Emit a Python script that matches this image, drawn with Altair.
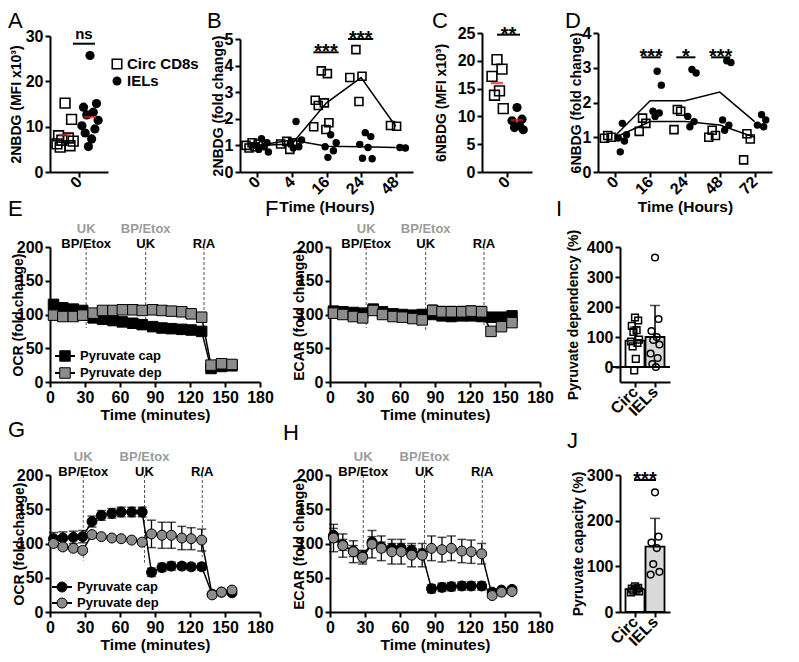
import altair as alt
import pandas as pd

FONT = "Liberation Sans"
GREY = "#8c8c8c"
ANN_GREY = "#9b9b9b"
RED = "#e41a1c"
BAR_GREY = "#d9d9d9"
ONE = pd.DataFrame({"v": [0]})

W_TOT, H_TOT = 783, 638

# ---------------- data ----------------
# A : 2NBDG MFI
A_ticks = ["0"]
A_groups = ["Circ CD8s", "IELs"]
A_circ = [15.2, 11.6, 8.0, 7.5, 7.0, 6.8, 6.2, 5.8, 5.5]
A_iel = [25.7, 15.1, 14.3, 13.2, 12.6, 11.4, 10.2, 9.5, 8.6, 7.3, 5.6]
A_mean = [8.2, 12.1]
A_sig = ["ns"]
A_sig_y = [28.3]

# B : 2NBDG fold change over time
B_cats = ["0", "4", "16", "24", "48"]
B_circ = [[1.1, 1.05, 1.0, 0.95, 0.9],
          [1.15, 1.1, 1.05, 0.85],
          [3.8, 3.7, 2.7, 2.6, 2.5, 1.85, 1.7, 1.6],
          [4.6, 3.6, 3.55, 2.65],
          [1.75, 1.72]]
B_iel = [[1.25, 1.1, 1.0, 0.95, 0.85, 0.75],
         [1.9, 1.2, 1.1, 0.95, 0.9],
         [1.4, 1.1, 0.95, 0.8, 0.55],
         [1.48, 1.33, 1.04, 0.92, 0.52, 0.5],
         [0.92, 0.9]]
B_circ_mean = [1.0, 1.05, 2.6, 3.55, 1.72]
B_iel_mean = [1.0, 1.2, 0.97, 0.95, 0.92]
B_sig = ["***", "***"]
B_sig_cat = [2, 3]
B_sig_y = [4.5, 5.0]

# C : 6NBDG MFI
C_ticks = ["0"]
C_circ = [20.2, 18.5, 17.2, 14.6, 13.8, 11.4]
C_iel = [11.6, 9.5, 9.2, 8.3, 8.0, 7.6]
C_mean = [16.0, 9.3]
C_sig = ["**"]
C_sig_y = [24.7]

# D : 6NBDG fold change over time
D_cats = ["0", "16", "24", "48", "72"]
D_circ = [[1.05, 1.0, 0.97],
          [1.55, 1.4, 1.17],
          [1.8, 1.75, 1.22],
          [1.2, 1.05, 1.0],
          [1.1, 0.95, 0.35]]
D_iel = [[1.4, 1.07, 0.98, 0.89, 0.58],
         [2.9, 2.5, 1.75, 1.7, 1.6],
         [2.95, 2.85, 1.6, 1.45, 1.3],
         [3.2, 3.15, 1.5, 1.35, 1.2],
         [1.65, 1.5, 1.35, 1.3]]
D_circ_mean = [1.0, 1.45, 1.45, 1.35, 1.0]
D_iel_mean = [1.05, 2.05, 2.05, 2.3, 1.45]
D_sig = ["***", "*", "***"]
D_sig_cat = [1, 2, 3]
D_sig_y = [3.3, 3.3, 3.3]

# Seahorse traces
SERIES = ["Pyruvate cap", "Pyruvate dep"]
ANN_TOP = ["UK", "BP/Etox", ""]
ANN_BOT = ["BP/Etox", "UK", "R/A"]

EF_t = [3, 11, 20, 28, 37, 45, 54, 62, 71, 79, 88, 96, 104, 113, 121, 130, 138, 147, 156]
EF_inj = [31, 82, 132]
E_cap = [115, 110, 108, 106, 95, 93, 91, 89, 87, 85, 82, 80, 79, 78, 77, 75, 20, 23, 24]
E_cap_err = [4, 3, 3, 3, 3, 3, 3, 3, 3, 3, 3, 3, 3, 3, 3, 3, 2, 2, 2]
E_dep = [99, 97, 97, 99, 102, 106, 106, 107, 107, 106, 107, 106, 105, 104, 101, 96, 25, 27, 26]
E_dep_err = [3, 3, 3, 3, 3, 3, 3, 3, 3, 3, 3, 3, 3, 3, 3, 3, 2, 2, 2]
E_vend = [80, 92, 92]

F_cap = [105, 104, 103, 102, 108, 104, 101, 100, 99, 100, 100, 98, 97, 98, 98, 97, 96, 96, 98]
F_cap_err = [5, 5, 5, 5, 5, 5, 5, 5, 5, 5, 6, 6, 6, 6, 6, 6, 5, 5, 5]
F_dep = [102, 100, 97, 95, 106, 100, 97, 96, 94, 92, 106, 104, 104, 104, 105, 104, 75, 82, 88]
F_dep_err = [3, 3, 3, 3, 3, 3, 3, 3, 3, 3, 8, 8, 8, 8, 8, 8, 3, 3, 3]
F_vend = [80, 75, 82]

GH_t = [3, 11, 20, 28, 36, 44, 53, 61, 70, 79, 87, 96, 104, 113, 121, 130, 139, 147, 156]
GH_inj = [28.5, 81, 130.5]
G_cap = [107, 108, 109, 110, 132, 141, 144, 146, 146, 146, 58, 65, 67, 67, 66, 66, 26, 29, 28]
G_cap_err = [9, 9, 9, 9, 8, 7, 7, 7, 7, 7, 6, 6, 6, 5, 5, 5, 3, 3, 3]
G_dep = [100, 95, 93, 90, 113, 110, 108, 107, 105, 102, 114, 112, 112, 108, 107, 105, 25, 29, 32]
G_dep_err = [4, 4, 4, 4, 3, 3, 3, 3, 3, 3, 20, 19, 19, 17, 16, 16, 3, 3, 3]
G_vend = [75, 72, 80]

H_cap = [112, 98, 89, 81, 102, 95, 93, 93, 90, 85, 34, 36, 37, 38, 38, 38, 29, 32, 33]
H_cap_err = [10, 8, 8, 8, 8, 7, 7, 7, 7, 7, 6, 6, 6, 6, 6, 6, 3, 3, 3]
H_dep = [108, 97, 88, 80, 99, 93, 88, 88, 83, 83, 93, 91, 93, 89, 88, 85, 24, 29, 30]
H_dep_err = [20, 17, 16, 10, 20, 18, 18, 18, 17, 17, 18, 18, 18, 17, 17, 15, 3, 3, 3]
H_vend = [78, 73, 93]

# I / J bars
IJ_cats = ["Circ", "IELs"]
I_mean = [88, 100]
I_err = [45, 105]
I_circ = [165, 155, 137, 123, 117, 91, 85, 80, 69, 27, -11]
I_iel = [365, 160, 120, 100, 90, 75, 45, 30, 10, 0]

J_mean = [50, 143]
J_err = [8, 62]
J_circ = [56, 53, 51, 49, 47, 45, 43]
J_iel = [262, 165, 152, 140, 105, 88, 82]
J_sig = ["***"]
J_sig_y = [289]

# ---------------- panel rectangles (left, right, top, bottom) in px ----------------
R_A = (42, 100, 28, 164)
R_B = (232, 405, 31, 164)
R_C = (474, 524, 25, 164)
R_D = (590, 764, 25, 164)
R_E = (42, 252, 239, 374)
R_F = (322, 532, 239, 374)
R_I = (612, 662, 239, 374)
R_G = (42, 252, 467, 604)
R_H = (322, 532, 467, 604)
R_J = (612, 662, 467, 604)
LET_TOP = 3


# ---------------- helpers ----------------
def jit(n, s):
    pat = [0.0, 0.8, -0.8, 0.4, -0.4, 1.0, -1.0, 0.6, -0.6, 0.2, -0.2, 0.9, -0.9]
    return [pat[k % len(pat)] * s for k in range(n)]


def pts(groups, shift, spread):
    xs, ys = [], []
    for i, vals in enumerate(groups):
        for v, o in zip(vals, jit(len(vals), spread)):
            xs.append(i + shift + o)
            ys.append(v)
    return pd.DataFrame({"x": xs, "y": ys})


def lab_expr(labels):
    return "[" + ",".join("'" + l + "'" for l in labels) + "][floor(datum.value + 0.001)]"


def mk_x(rect, domain, values, labels=None, title=None, angle=0):
    left, right, top, bottom = rect
    kw = {"values": values, "title": title, "orient": "bottom", "offset": bottom - H_TOT}
    if labels is not None:
        kw["labelExpr"] = lab_expr(labels)
    if angle:
        kw.update(labelAngle=angle, labelAlign="right", labelBaseline="middle")

    def f(field):
        return alt.X(f"{field}:Q",
                     scale=alt.Scale(domain=domain, range=[left, right], nice=False, zero=False),
                     axis=alt.Axis(**kw))
    return f


def mk_y(rect, domain, values, title, tx):
    left, right, top, bottom = rect
    kw = {"values": values, "title": title, "titleX": tx, "titleBaseline": "alphabetic",
          "orient": "left", "offset": -left}

    def f(field):
        return alt.Y(f"{field}:Q",
                     scale=alt.Scale(domain=domain, range=[bottom, top], nice=False, zero=False),
                     axis=alt.Axis(**kw))
    return f


def letter(ch, x, y):
    return alt.Chart(ONE).mark_text(text=ch, font=FONT, fontSize=22, align="left",
                                    baseline="top", color="black").encode(
        x=alt.value(x), y=alt.value(y))


def sq_layer(df, X, Y, size, sw=1.6):
    return alt.Chart(df).mark_point(shape="square", filled=False, color="black",
                                    strokeWidth=sw, size=size, opacity=1).encode(x=X("x"), y=Y("y"))


def dot_layer(df, X, Y, size):
    return alt.Chart(df).mark_circle(color="black", size=size, opacity=1).encode(x=X("x"), y=Y("y"))


def sig(X, Y, x1, x2, ys, labels, fs=20, dy=6):
    d = pd.DataFrame({"x": x1, "x2": x2, "y": ys, "lab": labels,
                      "xm": [(a + b) / 2 for a, b in zip(x1, x2)]})
    r = alt.Chart(d).mark_rule(color="black", strokeWidth=2).encode(x=X("x"), x2="x2", y=Y("y"))
    t = alt.Chart(d).mark_text(font=FONT, fontSize=fs, fontWeight="bold", baseline="alphabetic",
                               dy=dy, color="black").encode(x=X("xm"), y=Y("y"), text="lab:N")
    return [r, t]


def mean_line(means, X, Y):
    d = pd.DataFrame({"x": list(range(len(means))), "y": means})
    return alt.Chart(d).mark_line(color="black", strokeWidth=1.5).encode(x=X("x"), y=Y("y"))


# ---------------- panel A ----------------
XA = mk_x(R_A, [-1, 1], [0], A_ticks, None, -45)
YA = mk_y(R_A, [0, 30], [0, 10, 20, 30], "2NBDG (MFI x10³)", -30)
A_sh = (-0.48, 0.38)
A_layers = [sq_layer(pts([A_circ], A_sh[0], 0.28), XA, YA, 95),
            dot_layer(pts([A_iel], A_sh[1], 0.28), XA, YA, 85),
            alt.Chart(pd.DataFrame({"x": list(A_sh), "y": A_mean})).mark_tick(
                color=RED, thickness=2.5, size=12, orient="horizontal").encode(x=XA("x"), y=YA("y"))]
A_layers += sig(XA, YA, [-0.21], [0.55], A_sig_y, A_sig, fs=15, dy=-5)
for (lab, kind), py in zip(zip(A_groups, ["sq", "dot"]), [56, 73]):
    d = pd.DataFrame({"t": [lab]})
    if kind == "sq":
        mk = alt.Chart(d).mark_point(shape="square", filled=False, color="black", strokeWidth=1.6,
                                     size=90, opacity=1)
    else:
        mk = alt.Chart(d).mark_circle(color="black", size=80, opacity=1)
    A_layers.append(mk.encode(x=alt.value(109), y=alt.value(py)))
    A_layers.append(alt.Chart(d).mark_text(font=FONT, fontSize=15, fontWeight="bold", align="left",
                                           baseline="middle", color="black").encode(
        x=alt.value(119), y=alt.value(py), text="t:N"))
A_layers.append(letter("A", 0, LET_TOP))
panelA = alt.layer(*A_layers)

# ---------------- panel B ----------------
XB = mk_x(R_B, [-0.5, 4.5], list(range(5)), B_cats, "Time (Hours)", -45)
YB = mk_y(R_B, [0, 5], [0, 1, 2, 3, 4, 5], "2NBDG (fold change)", -18)
B_layers = [mean_line(B_circ_mean, XB, YB), mean_line(B_iel_mean, XB, YB),
            sq_layer(pts(B_circ, -0.15, 0.22), XB, YB, 64),
            dot_layer(pts(B_iel, 0.12, 0.2), XB, YB, 55)]
B_layers += sig(XB, YB, [c - 0.38 for c in B_sig_cat], [c + 0.35 for c in B_sig_cat], B_sig_y, B_sig)
B_layers.append(letter("B", 199, LET_TOP))
panelB = alt.layer(*B_layers)

# ---------------- panel C ----------------
XC = mk_x(R_C, [-1, 1], [0], C_ticks, None, -45)
YC = mk_y(R_C, [0, 25], [0, 5, 10, 15, 20, 25], "6NBDG (MFI x10³)", -37)
C_sh = (-0.4, 0.4)
C_layers = [sq_layer(pts([C_circ], C_sh[0], 0.25), XC, YC, 95),
            dot_layer(pts([C_iel], C_sh[1], 0.25), XC, YC, 85),
            alt.Chart(pd.DataFrame({"x": list(C_sh), "y": C_mean})).mark_tick(
                color=RED, thickness=2.5, size=12, orient="horizontal").encode(x=XC("x"), y=YC("y"))]
C_layers += sig(XC, YC, [-0.4], [0.52], C_sig_y, C_sig)
C_layers.append(letter("C", 424, LET_TOP))
panelC = alt.layer(*C_layers)

# ---------------- panel D ----------------
XD = mk_x(R_D, [-0.5, 4.5], list(range(5)), D_cats, "Time (Hours)", -45)
YD = mk_y(R_D, [0, 4], [0, 1, 2, 3, 4], "6NBDG (fold change)", -18)
D_layers = [mean_line(D_circ_mean, XD, YD), mean_line(D_iel_mean, XD, YD),
            sq_layer(pts(D_circ, -0.22, 0.12), XD, YD, 64),
            dot_layer(pts(D_iel, 0.2, 0.15), XD, YD, 55)]
D_layers += sig(XD, YD, [c - 0.25 for c in D_sig_cat], [c + 0.3 for c in D_sig_cat], D_sig_y, D_sig)
D_layers.append(letter("D", 557, LET_TOP))
panelD = alt.layer(*D_layers)


# ---------------- seahorse panels ----------------
def seahorse(rect, t, cap, cap_err, dep, dep_err, inj, vend, ylab, tx, shape, size,
             let, lx, ly, legend=None):
    X = mk_x(rect, [0, 180], list(range(0, 181, 30)), None, "Time (minutes)")
    Y = mk_y(rect, [0, 200], [0, 50, 100, 150, 200], ylab, tx)
    top = rect[2]
    df = pd.DataFrame({"t": t, "cap": cap, "dep": dep,
                       "cap_lo": [a - b for a, b in zip(cap, cap_err)],
                       "cap_hi": [a + b for a, b in zip(cap, cap_err)],
                       "dep_lo": [a - b for a, b in zip(dep, dep_err)],
                       "dep_hi": [a + b for a, b in zip(dep, dep_err)]})
    base = alt.Chart(df)
    dv = pd.DataFrame({"t": inj, "y": [200] * len(inj), "y2": vend, "top": ANN_TOP, "bot": ANN_BOT})
    layers = [alt.Chart(dv).mark_rule(strokeDash=[3, 2], color="#555555", strokeWidth=1).encode(
        x=X("t"), y=Y("y"), y2="y2")]
    for s in ("cap", "dep"):
        layers.append(base.mark_rule(color="black", strokeWidth=1.3).encode(
            x=X("t"), y=Y(f"{s}_lo"), y2=f"{s}_hi"))
        for e in ("lo", "hi"):
            layers.append(base.mark_tick(orient="horizontal", size=9, thickness=1.5, color="black").encode(
                x=X("t"), y=Y(f"{s}_{e}")))
    for s in ("cap", "dep"):
        layers.append(base.mark_line(color="black", strokeWidth=1.5).encode(x=X("t"), y=Y(s)))
    for s, col in (("cap", "black"), ("dep", GREY)):
        layers.append(base.mark_point(shape=shape, filled=True, fill=col, stroke="black", strokeWidth=1,
                                      size=size, opacity=1).encode(x=X("t"), y=Y(s)))
    layers.append(alt.Chart(dv).mark_text(font=FONT, fontSize=13, fontWeight="bold", color=ANN_GREY,
                                          baseline="alphabetic").encode(
        x=X("t"), y=alt.value(top - 14), text="top:N"))
    layers.append(alt.Chart(dv).mark_text(font=FONT, fontSize=13, fontWeight="bold", color="black",
                                          baseline="alphabetic").encode(
        x=X("t"), y=alt.value(top + 1), text="bot:N"))
    if legend is not None:
        px, pys, ptx = legend
        for lab, col, py in zip(SERIES, ("black", GREY), pys):
            d = pd.DataFrame({"t": [lab]})
            layers.append(alt.Chart(d).mark_rule(color="black", strokeWidth=2).encode(
                x=alt.value(px - 10), x2=alt.value(px + 10), y=alt.value(py)))
            layers.append(alt.Chart(d).mark_point(shape=shape, filled=True, fill=col, stroke="black",
                                                  strokeWidth=1, size=size, opacity=1).encode(
                x=alt.value(px), y=alt.value(py)))
            layers.append(alt.Chart(d).mark_text(font=FONT, fontSize=13, fontWeight="bold", align="left",
                                                 baseline="middle", color="black").encode(
                x=alt.value(ptx), y=alt.value(py), text="t:N"))
    layers.append(letter(let, lx, ly))
    return alt.layer(*layers)


panelE = seahorse(R_E, EF_t, E_cap, E_cap_err, E_dep, E_dep_err, EF_inj, E_vend, "OCR (fold change)", -28,
                  "square", 110, "E", 0, 191, legend=(57, [348, 365], 72))
panelF = seahorse(R_F, EF_t, F_cap, F_cap_err, F_dep, F_dep_err, EF_inj, F_vend, "ECAR (fold change)", -27,
                  "square", 110, "F", 257, 191)
panelG = seahorse(R_G, GH_t, G_cap, G_cap_err, G_dep, G_dep_err, GH_inj, G_vend, "OCR (fold change)", -27,
                  "circle", 100, "G", 0, 412, legend=(54, [579, 595], 69))
panelH = seahorse(R_H, GH_t, H_cap, H_cap_err, H_dep, H_dep_err, GH_inj, H_vend, "ECAR (fold change)", -27,
                  "circle", 100, "H", 275, 415)


# ---------------- bar panels ----------------
def barpanel(rect, means, errs, circ, iel, domain, yvals, ylab, tx, let, lx, ly, zero_line=False,
             sig_y=None, sig_lab=None):
    X = mk_x(rect, [0, 2], [0.5, 1.5], IJ_cats, None, -45)
    Y = mk_y(rect, domain, yvals, ylab, tx)
    left, right = rect[0], rect[1]
    db = pd.DataFrame({"x": [0.5, 1.5], "m": means, "z": [0, 0],
                       "hi": [m + e for m, e in zip(means, errs)],
                       "fill": ["white", BAR_GREY]})
    layers = [alt.Chart(db).mark_bar(size=19, stroke="black", strokeWidth=1.8).encode(
        x=X("x"), y=Y("m"), y2="z", fill=alt.Fill("fill:N", scale=None))]
    layers.append(alt.Chart(db).mark_rule(color="black", strokeWidth=1.5).encode(x=X("x"), y=Y("m"), y2="hi"))
    layers.append(alt.Chart(db).mark_tick(orient="horizontal", size=10, thickness=1.5, color="black").encode(
        x=X("x"), y=Y("hi")))
    if zero_line:
        layers.append(alt.Chart(db.head(1)).mark_rule(color="black", strokeWidth=2).encode(
            x=alt.value(left - 8), x2=alt.value(right), y=Y("z")))
    layers.append(alt.Chart(pts([circ], 0.5, 0.2)).mark_point(
        shape="square", filled=False, color="black", strokeWidth=1.5, size=45, opacity=1).encode(
        x=X("x"), y=Y("y")))
    layers.append(alt.Chart(pts([iel], 1.5, 0.22)).mark_point(
        shape="circle", filled=False, color="black", strokeWidth=1.5, size=45, opacity=1).encode(
        x=X("x"), y=Y("y")))
    if sig_y is not None:
        layers += sig(X, Y, [0.45], [1.55], sig_y, sig_lab)
    layers.append(letter(let, lx, ly))
    return alt.layer(*layers)


panelI = barpanel(R_I, I_mean, I_err, I_circ, I_iel, [-50, 400], [0, 100, 200, 300, 400],
                  "Pyruvate dependency (%)", -43, "I", 548, 191, zero_line=True)
panelJ = barpanel(R_J, J_mean, J_err, J_circ, J_iel, [0, 300], [0, 100, 200, 300],
                  "Pyruvate capacity (%)", -38, "J", 559, 423, sig_y=J_sig_y, sig_lab=J_sig)

# ---------------- assemble ----------------
chart = alt.layer(panelA, panelB, panelC, panelD, panelE, panelF, panelI, panelG, panelH, panelJ).resolve_scale(
    x="independent", y="independent"
).properties(width=W_TOT, height=H_TOT, padding=0, background="white").configure_view(
    stroke=None
).configure_axis(
    labelFont=FONT, labelFontSize=16, labelFontWeight="bold", labelColor="black",
    titleFont=FONT, titleFontWeight="bold", titleColor="black",
    domainColor="black", domainWidth=2, tickColor="black", tickWidth=2, tickSize=5,
    grid=False, labelPadding=2, titlePadding=2, labelFlush=False, labelOverlap=False
).configure_axisY(
    titleFontSize=14
).configure_axisX(
    titleFontSize=15.5
)

chart.save("out.html", embed_options={"renderer": "svg", "actions": False})
